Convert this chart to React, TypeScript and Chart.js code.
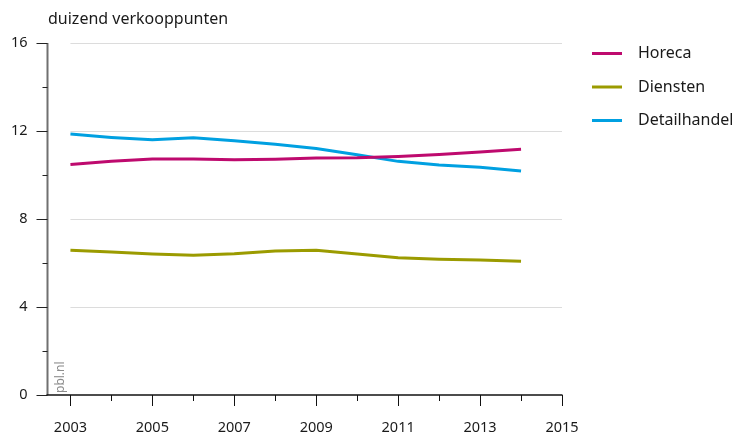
import React, { useEffect, useRef } from "react";
import { Chart, registerables } from "chart.js";

Chart.register(...registerables);

const years = [2003, 2004, 2005, 2006, 2007, 2008, 2009, 2010, 2011, 2012, 2013, 2014];
const horeca = [10.48, 10.62, 10.73, 10.73, 10.69, 10.72, 10.77, 10.78, 10.84, 10.93, 11.04, 11.17];
const diensten = [6.58, 6.5, 6.41, 6.35, 6.42, 6.55, 6.58, 6.41, 6.24, 6.17, 6.14, 6.08];
const detailhandel = [11.86, 11.71, 11.6, 11.69, 11.56, 11.4, 11.2, 10.92, 10.62, 10.45, 10.35, 10.18];

const seriesNames = ["Horeca", "Diensten", "Detailhandel"];
const seriesColors = ["#be0a6e", "#9b9b00", "#00a0e1"];

const xTickLabels = [2003, 2005, 2007, 2009, 2011, 2013, 2015];
const xMinorTicks = [2004, 2006, 2008, 2010, 2012, 2014];
const yTickLabels = [0, 4, 8, 12, 16];
const yMinorTicks = [2, 6, 10, 14];
const yGridLines = [4, 8, 12, 16];

const unitLabel = "duizend verkooppunten";
const sourceLabel = "pbl.nl";

const FONT = "'Noto Sans', sans-serif";

export default function App() {
  const ref = useRef<HTMLCanvasElement | null>(null);

  useEffect(() => {
    document.body.style.margin = "0";
    const canvas = ref.current;
    if (!canvas) return;

    const decor = {
      id: "decor",
      beforeDatasetsDraw(chart: any) {
        const { ctx } = chart;
        const xs = chart.scales.x;
        const ys = chart.scales.y;
        ctx.save();
        ctx.strokeStyle = "#dcdcdc";
        ctx.lineWidth = 1;
        const x0 = xs.getPixelForValue(2003);
        const x1 = xs.getPixelForValue(2015);
        yGridLines.forEach((v) => {
          const y = Math.round(ys.getPixelForValue(v)) + 0.5;
          ctx.beginPath();
          ctx.moveTo(x0, y);
          ctx.lineTo(x1, y);
          ctx.stroke();
        });
        ctx.restore();
      },
      afterDraw(chart: any) {
        const { ctx, chartArea } = chart;
        const xs = chart.scales.x;
        const ys = chart.scales.y;
        ctx.save();
        // y axis line
        ctx.strokeStyle = "#707070";
        ctx.lineWidth = 2;
        ctx.beginPath();
        ctx.moveTo(chartArea.left, chartArea.top);
        ctx.lineTo(chartArea.left, chartArea.bottom);
        ctx.stroke();
        // y ticks
        ctx.strokeStyle = "#222";
        ctx.lineWidth = 1;
        yTickLabels.forEach((v) => {
          const y = Math.round(ys.getPixelForValue(v)) + 0.5;
          ctx.beginPath();
          ctx.moveTo(chartArea.left - 11, y);
          ctx.lineTo(chartArea.left, y);
          ctx.stroke();
        });
        yMinorTicks.forEach((v) => {
          const y = Math.round(ys.getPixelForValue(v)) + 0.5;
          ctx.beginPath();
          ctx.moveTo(chartArea.left - 5, y);
          ctx.lineTo(chartArea.left, y);
          ctx.stroke();
        });
        // x axis line
        ctx.strokeStyle = "#111";
        ctx.lineWidth = 1.5;
        const xb = chartArea.bottom;
        ctx.beginPath();
        ctx.moveTo(chartArea.left - 1, xb);
        ctx.lineTo(xs.getPixelForValue(2015) + 0.5, xb);
        ctx.stroke();
        ctx.lineWidth = 1;
        xTickLabels.forEach((v) => {
          const x = Math.round(xs.getPixelForValue(v)) + 0.5;
          ctx.beginPath();
          ctx.moveTo(x, xb);
          ctx.lineTo(x, xb + 11);
          ctx.stroke();
        });
        xMinorTicks.forEach((v) => {
          const x = Math.round(xs.getPixelForValue(v)) + 0.5;
          ctx.beginPath();
          ctx.moveTo(x, xb);
          ctx.lineTo(x, xb + 6);
          ctx.stroke();
        });
        // unit label
        ctx.fillStyle = "#1a1a1a";
        ctx.font = `16px ${FONT}`;
        ctx.textAlign = "left";
        ctx.textBaseline = "middle";
        ctx.fillText(unitLabel, 48, 19);
        // source label
        ctx.save();
        ctx.translate(61, chartArea.bottom - 2);
        ctx.rotate(-Math.PI / 2);
        ctx.fillStyle = "#8c8c8c";
        ctx.font = `12px ${FONT}`;
        ctx.textAlign = "left";
        ctx.textBaseline = "middle";
        ctx.fillText(sourceLabel, 0, 0);
        ctx.restore();
        // legend
        chart.data.datasets.forEach((ds: any, i: number) => {
          const y = 53.5 + i * 33.5;
          ctx.strokeStyle = ds.borderColor;
          ctx.lineWidth = 3;
          ctx.beginPath();
          ctx.moveTo(592, y);
          ctx.lineTo(622, y);
          ctx.stroke();
          ctx.fillStyle = "#1a1a1a";
          ctx.font = `16px ${FONT}`;
          ctx.textAlign = "left";
          ctx.textBaseline = "middle";
          ctx.fillText(ds.label, 638, y);
        });
        ctx.restore();
      },
    };

    const mk = (vals: number[]) => years.map((yr, i) => ({ x: yr, y: vals[i] }));
    const allVals = [horeca, diensten, detailhandel];

    const chart = new Chart(canvas, {
      type: "line",
      data: {
        datasets: seriesNames.map((name, i) => ({
          label: name,
          data: mk(allVals[i]),
          borderColor: seriesColors[i],
          backgroundColor: seriesColors[i],
          borderWidth: 3,
          pointRadius: 0,
          tension: 0,
          fill: false,
        })),
      },
      options: {
        animation: false,
        responsive: false,
        maintainAspectRatio: false,
        layout: { padding: { left: 0, top: 43, right: 175, bottom: 0 } },
        plugins: {
          legend: { display: false },
          tooltip: { enabled: false },
          title: { display: false },
        },
        scales: {
          x: {
            type: "linear",
            min: 2002.44,
            max: 2015,
            afterFit: (s: any) => {
              s.height = 39;
            },
            afterBuildTicks: (s: any) => {
              s.ticks = xTickLabels.map((v) => ({ value: v }));
            },
            grid: { display: true, drawOnChartArea: false, drawTicks: false },
            border: { display: false },
            ticks: {
              autoSkip: false,
              maxRotation: 0,
              padding: 24,
              color: "#1a1a1a",
              font: { family: FONT, size: 14.5 },
              callback: (v: any) => String(v),
            },
          },
          y: {
            type: "linear",
            min: 0,
            max: 16,
            afterFit: (s: any) => {
              s.width = 47.5;
            },
            afterBuildTicks: (s: any) => {
              s.ticks = yTickLabels.map((v) => ({ value: v }));
            },
            grid: { display: true, drawOnChartArea: false, drawTicks: false },
            border: { display: false },
            ticks: {
              padding: 20,
              color: "#1a1a1a",
              font: { family: FONT, size: 14.5 },
              callback: (v: any) => String(v),
            },
          },
        },
      },
      plugins: [decor],
    });

    return () => chart.destroy();
  }, []);

  return (
    <div style={{ width: 737, height: 434, background: "#fff" }}>
      <canvas ref={ref} width={737} height={434} style={{ display: "block" }} />
    </div>
  );
}
